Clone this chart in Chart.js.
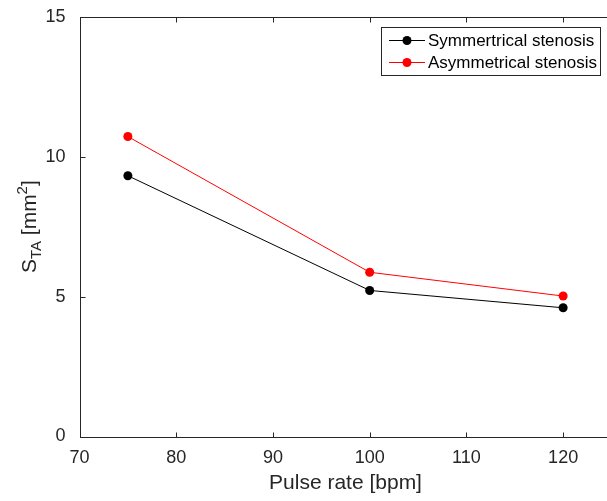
<!DOCTYPE html>
<html>
<head>
<meta charset="utf-8">
<script src="https://cdn.jsdelivr.net/npm/chart.js@4.4.1/dist/chart.umd.min.js"></script>
<style>
  html, body { margin: 0; padding: 0; background: #fff; overflow: hidden; }
  #wrap { position: relative; width: 616px; height: 501px; }
</style>
</head>
<body>
<div id="wrap"><canvas id="chart"></canvas></div>
<script>
// pulse rate (bpm) and area S_TA (mm^2)
const pulseRate = [75, 100, 120];
const symValues = [9.32, 5.22, 4.6];
const asymValues = [10.72, 5.87, 5.02];
const seriesLabels = ['Symmertrical stenosis', 'Asymmetrical stenosis'];
const xTicks = [70, 80, 90, 100, 110, 120];
const yTicks = [0, 5, 10, 15];

const axisColor = '#262626';
const fontFamily = '"Liberation Sans", Arial, Helvetica, sans-serif';

const toPoints = vals => pulseRate.map((x, i) => ({ x: x, y: vals[i] }));

// caja, marcas interiores, títulos y leyenda al estilo MATLAB
const matlabAxes = {
  id: 'matlabAxes',
  afterDraw(chart) {
    const ctx = chart.ctx;
    const a = chart.chartArea;
    const sx = chart.scales.x, sy = chart.scales.y;
    const L = Math.round(a.left) + 0.5, R = Math.round(a.right) + 0.5;
    const T = Math.round(a.top) + 0.5, B = Math.round(a.bottom) + 0.5;
    ctx.save();
    ctx.strokeStyle = axisColor;
    ctx.lineWidth = 1;
    ctx.strokeRect(L, T, R - L, B - T);
    ctx.beginPath();
    xTicks.forEach(v => {
      const px = Math.round(sx.getPixelForValue(v)) + 0.5;
      ctx.moveTo(px, B); ctx.lineTo(px, B - 5);
      ctx.moveTo(px, T); ctx.lineTo(px, T + 5);
    });
    yTicks.forEach(v => {
      const py = Math.round(sy.getPixelForValue(v)) + 0.5;
      ctx.moveTo(L, py); ctx.lineTo(L + 5, py);
      ctx.moveTo(R, py); ctx.lineTo(R - 5, py);
    });
    ctx.stroke();

    // título eje x
    ctx.fillStyle = axisColor;
    ctx.font = '21px ' + fontFamily;
    ctx.textAlign = 'center';
    ctx.textBaseline = 'alphabetic';
    ctx.fillText('Pulse rate [bpm]', (a.left + a.right) / 2, 489);

    // título eje y: S_TA [mm^2]
    ctx.save();
    ctx.translate(36, (a.top + a.bottom) / 2);
    ctx.rotate(-Math.PI / 2);
    const big = '21px ' + fontFamily, small = '15px ' + fontFamily;
    const parts = [
      { t: 'S', f: big, dy: 0 },
      { t: 'TA', f: small, dy: 5 },
      { t: ' [mm', f: big, dy: 0 },
      { t: '2', f: small, dy: -9 },
      { t: ']', f: big, dy: 0 }
    ];
    let total = 0;
    parts.forEach(p => { ctx.font = p.f; p.w = ctx.measureText(p.t).width; total += p.w; });
    let cx = -total / 2;
    ctx.textAlign = 'left';
    parts.forEach(p => {
      ctx.font = p.f;
      ctx.fillText(p.t, cx, p.dy);
      cx += p.w;
    });
    ctx.restore();

    // leyenda
    const bx = 381.5, by = 27.5, bw = 219, bh = 48;
    ctx.fillStyle = '#fff';
    ctx.fillRect(bx, by, bw, bh);
    ctx.strokeStyle = axisColor;
    ctx.strokeRect(bx, by, bw, bh);
    ctx.font = '17px ' + fontFamily;
    ctx.textBaseline = 'middle';
    ctx.textAlign = 'left';
    chart.data.datasets.forEach((ds, i) => {
      const ry = 40 + i * 22;
      ctx.strokeStyle = ds.borderColor;
      ctx.beginPath();
      ctx.moveTo(389, ry + 0.5); ctx.lineTo(425, ry + 0.5);
      ctx.stroke();
      ctx.fillStyle = ds.pointBackgroundColor;
      ctx.beginPath();
      ctx.arc(407, ry + 0.5, 4.5, 0, Math.PI * 2);
      ctx.fill();
      ctx.fillStyle = '#000';
      ctx.fillText(ds.label, 428, ry + 1);
    });
    ctx.restore();
  }
};

const ctx = document.getElementById('chart').getContext('2d');
window.chart = new Chart(ctx, {
  type: 'scatter',
  data: {
    datasets: [
      {
        label: seriesLabels[0],
        data: toPoints(symValues),
        showLine: true,
        borderColor: '#000000',
        backgroundColor: '#000000',
        pointBackgroundColor: '#000000',
        pointBorderWidth: 0,
        borderWidth: 1,
        pointRadius: 4.5,
        tension: 0
      },
      {
        label: seriesLabels[1],
        data: toPoints(asymValues),
        showLine: true,
        borderColor: '#ff0000',
        backgroundColor: '#ff0000',
        pointBackgroundColor: '#ff0000',
        pointBorderWidth: 0,
        borderWidth: 1,
        pointRadius: 4.5,
        tension: 0
      }
    ]
  },
  options: {
    responsive: true,
    maintainAspectRatio: false,
    animation: false,
    layout: { padding: { top: 15, right: 1.5, left: 0, bottom: 0 } },
    plugins: {
      legend: { display: false },
      tooltip: { enabled: false }
    },
    scales: {
      x: {
        type: 'linear',
        min: 70,
        max: 125,
        grid: { display: false },
        border: { display: false },
        afterBuildTicks: s => { s.ticks = xTicks.map(v => ({ value: v })); },
        afterFit: s => { s.height = 64.5; },
        ticks: {
          color: axisColor,
          padding: 3,
          maxRotation: 0,
          font: { family: fontFamily, size: 18 }
        }
      },
      y: {
        type: 'linear',
        min: 0,
        max: 15,
        grid: { display: false },
        border: { display: false },
        afterBuildTicks: s => { s.ticks = yTicks.map(v => ({ value: v })); },
        afterFit: s => { s.width = 79.5; },
        ticks: {
          color: axisColor,
          padding: 6,
          font: { family: fontFamily, size: 18 }
        }
      }
    }
  },
  plugins: [matlabAxes]
});
</script>
</body>
</html>
